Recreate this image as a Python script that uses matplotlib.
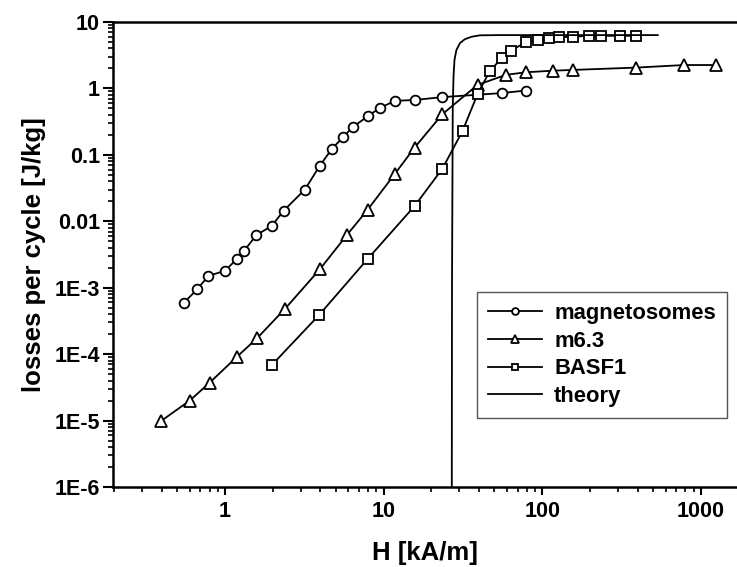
import matplotlib
matplotlib.use("Agg")
import matplotlib.pyplot as plt
from matplotlib.ticker import LogLocator, NullFormatter

plt.rcParams['font.family'] = ['Liberation Sans', 'DejaVu Sans']
plt.rcParams['font.weight'] = 'bold'

# data
mag_h = [0.55, 0.67, 0.785, 1.0, 1.19, 1.32, 1.58, 1.97, 2.35, 3.19, 3.97, 4.74,
         5.56, 6.38, 7.93, 9.5, 11.8, 15.7, 23.5, 55.4, 78.8]
mag_loss = [5.9e-4, 9.5e-4, 1.5e-3, 1.8e-3, 2.7e-3, 3.6e-3, 6.2e-3, 8.5e-3, 0.0145,
            0.030, 0.069, 0.124, 0.185, 0.26, 0.38, 0.51, 0.65, 0.67, 0.74, 0.85, 0.93]

m63_h = [0.395, 0.60, 0.80, 1.19, 1.6, 2.39, 3.97, 5.9, 7.93, 11.8, 15.7, 23.5,
         39.1, 59, 78.8, 117, 157, 393, 784, 1254]
m63_loss = [9.8e-6, 2.0e-5, 3.7e-5, 9.1e-5, 1.75e-4, 4.8e-4, 1.9e-3, 6.3e-3, 0.0149,
            0.052, 0.129, 0.41, 1.13, 1.6, 1.75, 1.85, 1.9, 2.06, 2.25, 2.25]

basf_h = [1.97, 3.93, 7.93, 15.7, 23.5, 31.5, 39.1, 46.8, 55.4, 63.4, 78.8, 94.3,
          110, 128, 157, 198, 234, 308, 393]
basf_loss = [6.8e-5, 3.9e-4, 2.7e-3, 0.017, 0.062, 0.23, 0.82, 1.83, 2.84, 3.7, 4.95,
             5.36, 5.7, 5.9, 6.0, 6.2, 6.2, 6.2, 6.2]

theory_h = [26.9, 27.0, 27.3, 27.6, 28.0, 28.8, 30.3, 32.5, 35.9, 40.4, 54.1, 535]
theory_loss = [1e-7, 1e-3, 0.5, 1.5, 2.7, 3.8, 4.8, 5.5, 6.0, 6.3, 6.35, 6.35]

y_ticks = [1e-6, 1e-5, 1e-4, 1e-3, 0.01, 0.1, 1, 10]
y_labels = ['1E-6', '1E-5', '1E-4', '1E-3', '0.01', '0.1', '1', '10']
x_ticks = [1, 10, 100, 1000]
x_labels = ['1', '10', '100', '1000']

fig = plt.figure(figsize=(7.37, 5.67), dpi=100)
ax = fig.add_axes([0.1533, 0.1411, 0.8467, 0.8201])

mk = dict(color='black', lw=1.3, mfc='white', mec='black', mew=1.3)
ax.plot(mag_h, mag_loss, marker='o', ms=7, label='magnetosomes', **mk)
ax.plot(m63_h, m63_loss, marker='^', ms=8.5, label='m6.3', **mk)
ax.plot(basf_h, basf_loss, marker='s', ms=6.5, label='BASF1', **mk)
ax.plot(theory_h, theory_loss, color='black', lw=1.3, label='theory')

ax.set_xscale('log')
ax.set_yscale('log')
ax.set_xlim(0.197, 1690)
ax.set_ylim(1e-6, 10)

ax.set_yticks(y_ticks)
ax.set_yticklabels(y_labels)
ax.set_xticks(x_ticks)
ax.set_xticklabels(x_labels)
ax.yaxis.set_minor_locator(LogLocator(base=10, subs=range(2, 10), numticks=20))
ax.xaxis.set_minor_locator(LogLocator(base=10, subs=range(2, 10), numticks=20))
ax.yaxis.set_minor_formatter(NullFormatter())
ax.xaxis.set_minor_formatter(NullFormatter())

ax.spines['right'].set_visible(False)
for s in ['left', 'bottom', 'top']:
    ax.spines[s].set_linewidth(1.8)
ax.tick_params(which='major', direction='out', width=1.5, labelsize=15.5)
ax.tick_params(axis='y', which='major', length=7.5, pad=2)
ax.tick_params(axis='x', which='major', length=6, pad=4)
ax.tick_params(which='minor', direction='out', length=3.5, width=1.2)
for lab in ax.get_xticklabels() + ax.get_yticklabels():
    lab.set_fontweight('bold')

ax.set_xlabel('H [kA/m]', fontsize=18.5, fontweight='bold', labelpad=14)
ax.set_ylabel('losses per cycle [J/kg]', fontsize=18.5, fontweight='bold', labelpad=6)

leg = ax.legend(loc='upper left', bbox_to_anchor=(0.584, 0.419), borderaxespad=0,
                fancybox=False, framealpha=1, edgecolor='#555555',
                markerscale=0.7, handlelength=2.45, handletextpad=0.55,
                labelspacing=0.3, borderpad=0.5,
                prop={'weight': 'bold', 'size': 15.8})
leg.get_frame().set_linewidth(1.0)

fig.savefig('out.png', dpi=100)
